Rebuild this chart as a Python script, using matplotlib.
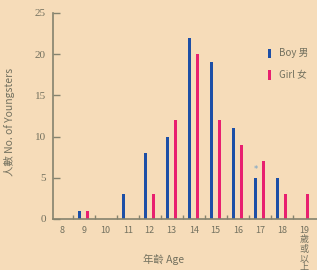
import matplotlib
matplotlib.use("Agg")
import matplotlib.pyplot as plt
import numpy as np

# data
ages = [8, 9, 10, 11, 12, 13, 14, 15, 16, 17, 18, 19]
age_labels = ["8", "9", "10", "11", "12", "13", "14", "15", "16", "17", "18", "19\n歲\n或\n以\n上"]
boys = [0, 1, 0, 3, 8, 10, 22, 19, 11, 5, 5, 0]
girls = [0, 1, 0, 0, 3, 12, 20, 12, 9, 7, 3, 3]

bg = "#f6dcb9"
blue = "#1d4fa6"
pink = "#e8206f"
grey = "#73715f"
fonts = ["Noto Sans CJK TC", "DejaVu Sans"]

fig = plt.figure(figsize=(3.17, 2.70), dpi=100, facecolor=bg)
ax = fig.add_axes([0.167, 0.189, 0.833, 0.763], facecolor=bg)

x = np.array(ages)
w = 0.15
ax.bar(x - 0.18, boys, width=w, color=blue, label="Boy 男")
ax.bar(x + 0.18, girls, width=w, color=pink, label="Girl 女")
ax.text(17 - 0.18, 5.4, "*", color="#6fa0c8", fontsize=6, ha="center", va="bottom")

ax.set_xlim(7.6, 19.6)
ax.set_ylim(0, 25)
for s in ["top", "right"]:
    ax.spines[s].set_visible(False)
for s in ["left", "bottom"]:
    ax.spines[s].set_color("#85836e")
    ax.spines[s].set_linewidth(1.2)

ax.set_yticks([0, 5, 10, 15, 20, 25])
ax.tick_params(axis="y", direction="in", length=5, width=1, colors="#85836e",
               labelcolor=grey, labelsize=8, pad=5)
for t in ax.get_yticklabels():
    t.set_family("Liberation Serif")

ax.set_xticks(ages)
ax.set_xticklabels(age_labels, fontsize=6.5, color=grey, linespacing=1.05)
for t in ax.get_xticklabels():
    t.set_family(fonts)
ax.tick_params(axis="x", length=0, pad=5)
ax.set_xticks(np.arange(8.5, 19.5, 1), minor=True)
ax.tick_params(axis="x", which="minor", direction="in", length=3, width=1, colors="#85836e")

ax.set_xlabel("年齡 Age", fontsize=7.5, color=grey, family=fonts)
ax.xaxis.set_label_coords(0.42, -0.17)
ax.set_ylabel("人數 No. of Youngsters", fontsize=7.5, color=grey, family=fonts)
ax.yaxis.set_label_coords(-0.145, 0.47)

leg = ax.legend(loc="upper right", bbox_to_anchor=(1.0, 0.87), frameon=False,
                handlelength=0.35, handleheight=1.1, handletextpad=0.8,
                labelspacing=1.2, prop={"family": fonts, "size": 7})
for t in leg.get_texts():
    t.set_color(grey)

fig.savefig("out.png", dpi=100, facecolor=bg)
